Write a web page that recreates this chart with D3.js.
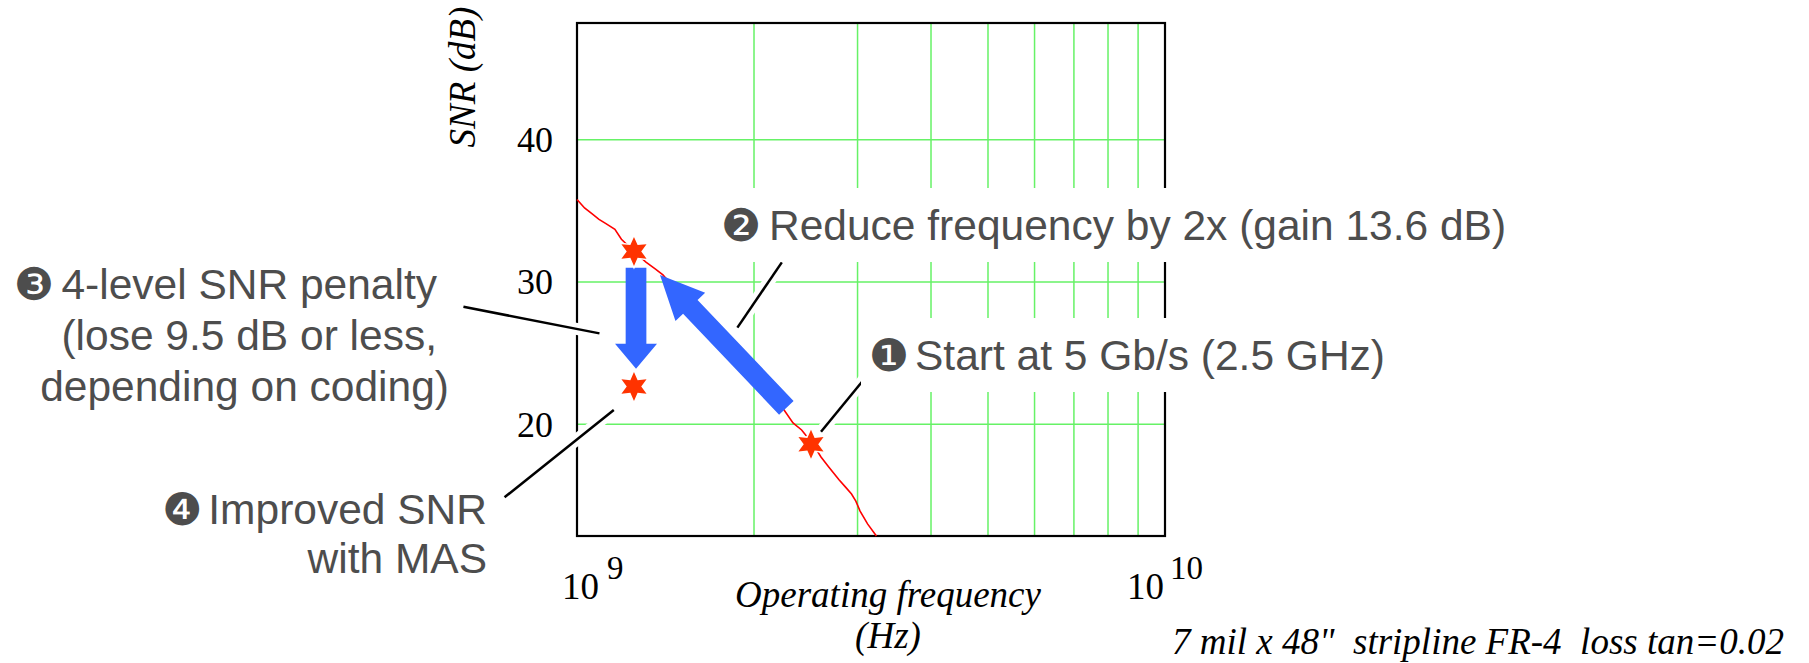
<!DOCTYPE html>
<html>
<head>
<meta charset="utf-8">
<script src="https://cdn.jsdelivr.net/npm/d3@7"></script>
<style>
  body { margin: 0; background: #fff; }
  svg { display: block; }
  .serif { font-family: "Liberation Serif", "Times New Roman", serif; fill: #000; }
  .note { font-family: "Liberation Sans", Arial, sans-serif; fill: #4d4d4d; font-size: 42.5px; }
  .dingbat { font-family: "DejaVu Sans", sans-serif; fill: #4d4d4d; font-size: 45px; }
</style>
</head>
<body>
<svg width="1809" height="663"></svg>
<script>
// SNR curve (Hz, dB)
const curveFreq = [1.00e9, 1.03e9, 1.06e9, 1.09e9, 1.12e9, 1.16e9, 1.19e9, 1.25e9, 1.31e9, 1.36e9,
  1.40e9, 1.55e9, 1.75e9, 2.00e9, 2.25e9, 2.33e9, 2.41e9, 2.52e9, 2.60e9, 2.68e9,
  2.79e9, 2.86e9, 2.93e9, 2.98e9, 3.03e9, 3.12e9, 3.23e9]
const curveSNR = [35.8, 35.2, 34.8, 34.4, 34.1, 33.7, 33.0, 32.15, 31.4, 30.9,
  30.5, 28.4, 26.0, 23.3, 21.0, 20.1, 19.6, 18.6, 17.7, 17.0,
  16.1, 15.6, 15.1, 14.6, 13.9, 13.0, 12.15]

// the three marked operating points
const pointFreq = [2.5e9, 1.25e9, 1.25e9]
const pointSNR = [18.6, 32.15, 22.65]

// blue arrows, tail -> tip
const arrowFrom = [[2.27e9, 21.16], [1.26e9, 31.0]]
const arrowTo = [[1.384e9, 30.49], [1.26e9, 23.9]]

// callout leader lines (label end -> mark end)
const leaderFrom = [[3.13e9, 23.53], [2.23e9, 31.38], [0.641e9, 28.26], [0.753e9, 14.87]]
const leaderTo = [[2.60e9, 19.48], [1.874e9, 26.79], [1.092e9, 26.39], [1.155e9, 21.0]]

// axes
const yTicks = [20, 30, 40]
const xGrid = [2e9, 3e9, 4e9, 5e9, 6e9, 7e9, 8e9, 9e9]
const xTickExp = [9, 10]

// callout texts
const noteMarks = ['\u2776', '\u2777', '\u2778', '\u2779']
const noteLines = [
  ['Start at 5 Gb/s (2.5 GHz)'],
  ['Reduce frequency by 2x (gain 13.6 dB)'],
  ['4-level SNR penalty', '(lose 9.5 dB or less,', 'depending on coding)'],
  ['Improved SNR', 'with MAS']
]

const svg = d3.select('svg')
const margin = {top: 23, right: 644, bottom: 127, left: 577}
const width = 1809 - margin.left - margin.right
const height = 663 - margin.top - margin.bottom
const group = svg.append('g')
  .attr('transform', 'translate(' + margin.left + ',' + margin.top + ')')

const x = d3.scaleLog().domain([1e9, 1e10]).range([0, width])
const y = d3.scaleLinear().domain([12.15, 48.2]).range([height, 0])

// grid
group.selectAll('.vgrid').data(xGrid).enter().append('line')
  .attr('class', 'vgrid')
  .attr('x1', d => x(d)).attr('x2', d => x(d))
  .attr('y1', 0).attr('y2', height)
  .attr('stroke', '#66f266').attr('stroke-width', 1.5)
group.selectAll('.hgrid').data(yTicks).enter().append('line')
  .attr('class', 'hgrid')
  .attr('x1', 0).attr('x2', width)
  .attr('y1', d => y(d)).attr('y2', d => y(d))
  .attr('stroke', '#66f266').attr('stroke-width', 1.5)

// frame
group.append('rect')
  .attr('width', width).attr('height', height)
  .attr('fill', 'none').attr('stroke', '#000').attr('stroke-width', 2.2)

// y axis labels
const yAxis = group.append('g')
  .attr('class', 'serif')
  .call(d3.axisLeft(y).tickValues(yTicks).tickSize(0).tickPadding(24))
yAxis.select('.domain').remove()
yAxis.selectAll('text')
  .attr('class', 'serif')
  .attr('fill', '#000')
  .style('font-size', '36px')
  .attr('dy', '0.33em')

// x axis labels 10^9 and 10^10
const xLab = group.selectAll('.xlab').data(xTickExp).enter().append('text')
  .attr('class', 'serif xlab')
  .style('font-size', '37px')
  .attr('text-anchor', (d, i) => i === 0 ? 'start' : 'end')
  .attr('x', (d, i) => x(Math.pow(10, d)) + (i === 0 ? -15 : 38))
  .attr('y', height + 63)
xLab.append('tspan').text('10')
xLab.append('tspan')
  .attr('dx', (d, i) => i === 0 ? 8 : 6)
  .attr('dy', -20)
  .style('font-size', '33px')
  .text(d => d)

// axis titles
svg.append('text')
  .attr('class', 'serif')
  .attr('transform', 'translate(475,77) rotate(-90)')
  .attr('text-anchor', 'middle')
  .style('font-size', '37px').style('font-style', 'italic')
  .text('SNR (dB)')
svg.append('text')
  .attr('class', 'serif')
  .attr('x', 888).attr('y', 607)
  .attr('text-anchor', 'middle')
  .style('font-size', '37px').style('font-style', 'italic')
  .text('Operating frequency')
svg.append('text')
  .attr('class', 'serif')
  .attr('x', 888).attr('y', 648)
  .attr('text-anchor', 'middle')
  .style('font-size', '37px').style('font-style', 'italic')
  .text('(Hz)')
svg.append('text')
  .attr('class', 'serif')
  .attr('x', 1172).attr('y', 654)
  .style('font-size', '37px').style('font-style', 'italic')
  .style('white-space', 'pre')
  .text('7 mil x 48"  stripline FR-4  loss tan=0.02')

// SNR curve
const line = d3.line()
  .x((d, i) => x(curveFreq[i]))
  .y(d => y(d))
group.append('path')
  .datum(curveSNR)
  .attr('d', line)
  .attr('fill', 'none')
  .attr('stroke', '#ff0000')
  .attr('stroke-width', 1.6)

// blue arrows
const arrowStyle = [{shaft: 20, head: 41, len: 44}, {shaft: 20.7, head: 42, len: 25}]
function arrowPoints(p0, p1, s) {
  const dx = p1[0] - p0[0], dy = p1[1] - p0[1]
  const L = Math.hypot(dx, dy)
  const ux = dx / L, uy = dy / L
  const px = -uy, py = ux
  const bx = p1[0] - ux * s.len, by = p1[1] - uy * s.len
  const pts = [
    [p0[0] + px * s.shaft / 2, p0[1] + py * s.shaft / 2],
    [bx + px * s.shaft / 2, by + py * s.shaft / 2],
    [bx + px * s.head / 2, by + py * s.head / 2],
    p1,
    [bx - px * s.head / 2, by - py * s.head / 2],
    [bx - px * s.shaft / 2, by - py * s.shaft / 2],
    [p0[0] - px * s.shaft / 2, p0[1] - py * s.shaft / 2]
  ]
  return pts.map(p => p.join(',')).join(' ')
}
group.selectAll('.arrow').data(arrowFrom).enter().append('polygon')
  .attr('class', 'arrow')
  .attr('points', (d, i) => arrowPoints(
    [x(d[0]), y(d[1])], [x(arrowTo[i][0]), y(arrowTo[i][1])], arrowStyle[i]))
  .attr('fill', '#3366ff')

// six-pointed stars
const hexStar = {
  draw(context, size) {
    const r = Math.sqrt(size)
    for (let k = 0; k < 12; k++) {
      const a = -Math.PI / 2 + k * Math.PI / 6
      const rr = k % 2 === 0 ? r : r * 0.5
      if (k === 0) context.moveTo(rr * Math.cos(a), rr * Math.sin(a))
      else context.lineTo(rr * Math.cos(a), rr * Math.sin(a))
    }
    context.closePath()
  }
}
group.selectAll('.star').data(pointSNR).enter().append('path')
  .attr('class', 'star')
  .attr('transform', (d, i) => 'translate(' + x(pointFreq[i]) + ',' + y(d) + ')')
  .attr('d', d3.symbol().type(hexStar).size(14.5 * 14.5))
  .attr('fill', '#ff3300')
  .attr('stroke', '#fff').attr('stroke-width', 3)
  .style('paint-order', 'stroke')

// callout texts: mark position, text anchor position
const notePos = [
  {mx: 869, x: 915, y: 370, anchor: 'start', box: true},
  {mx: 721, x: 769, y: 240, anchor: 'start', box: true},
  {mx: 14, x: 437, y: 299, anchor: 'end', box: false},
  {mx: 162, x: 487, y: 524, anchor: 'end', box: false}
]
const boxLayer = svg.append('g')
const leaderLayer = group.append('g')
const textLayer = svg.append('g')

noteLines.forEach((lines, n) => {
  const p = notePos[n]
  const texts = [textLayer.append('text')
    .attr('class', 'dingbat')
    .attr('x', p.mx).attr('y', p.y + 1)
    .text(noteMarks[n])]
  lines.forEach((str, k) => {
    texts.push(textLayer.append('text')
      .attr('class', 'note')
      .attr('x', k === 2 ? p.x + 12 : p.x)
      .attr('y', p.y + k * (n === 3 ? 49 : 51))
      .attr('text-anchor', p.anchor)
      .text(str))
  })
  if (p.box) {
    texts.forEach(t => {
      const b = t.node().getBBox()
      boxLayer.append('rect')
        .attr('x', b.x - 8).attr('y', p.y - 52)
        .attr('width', b.width + 16).attr('height', 74)
        .attr('fill', '#fff')
    })
  }
})

// leader lines with a white halo
leaderLayer.selectAll('.halo').data(leaderFrom).enter().append('line')
  .attr('x1', d => x(d[0])).attr('y1', d => y(d[1]))
  .attr('x2', (d, i) => x(leaderTo[i][0])).attr('y2', (d, i) => y(leaderTo[i][1]))
  .attr('stroke', '#fff').attr('stroke-width', 12)
leaderLayer.selectAll('.leader').data(leaderFrom).enter().append('line')
  .attr('x1', d => x(d[0])).attr('y1', d => y(d[1]))
  .attr('x2', (d, i) => x(leaderTo[i][0])).attr('y2', (d, i) => y(leaderTo[i][1]))
  .attr('stroke', '#000').attr('stroke-width', 2.5)
</script>
</body>
</html>
